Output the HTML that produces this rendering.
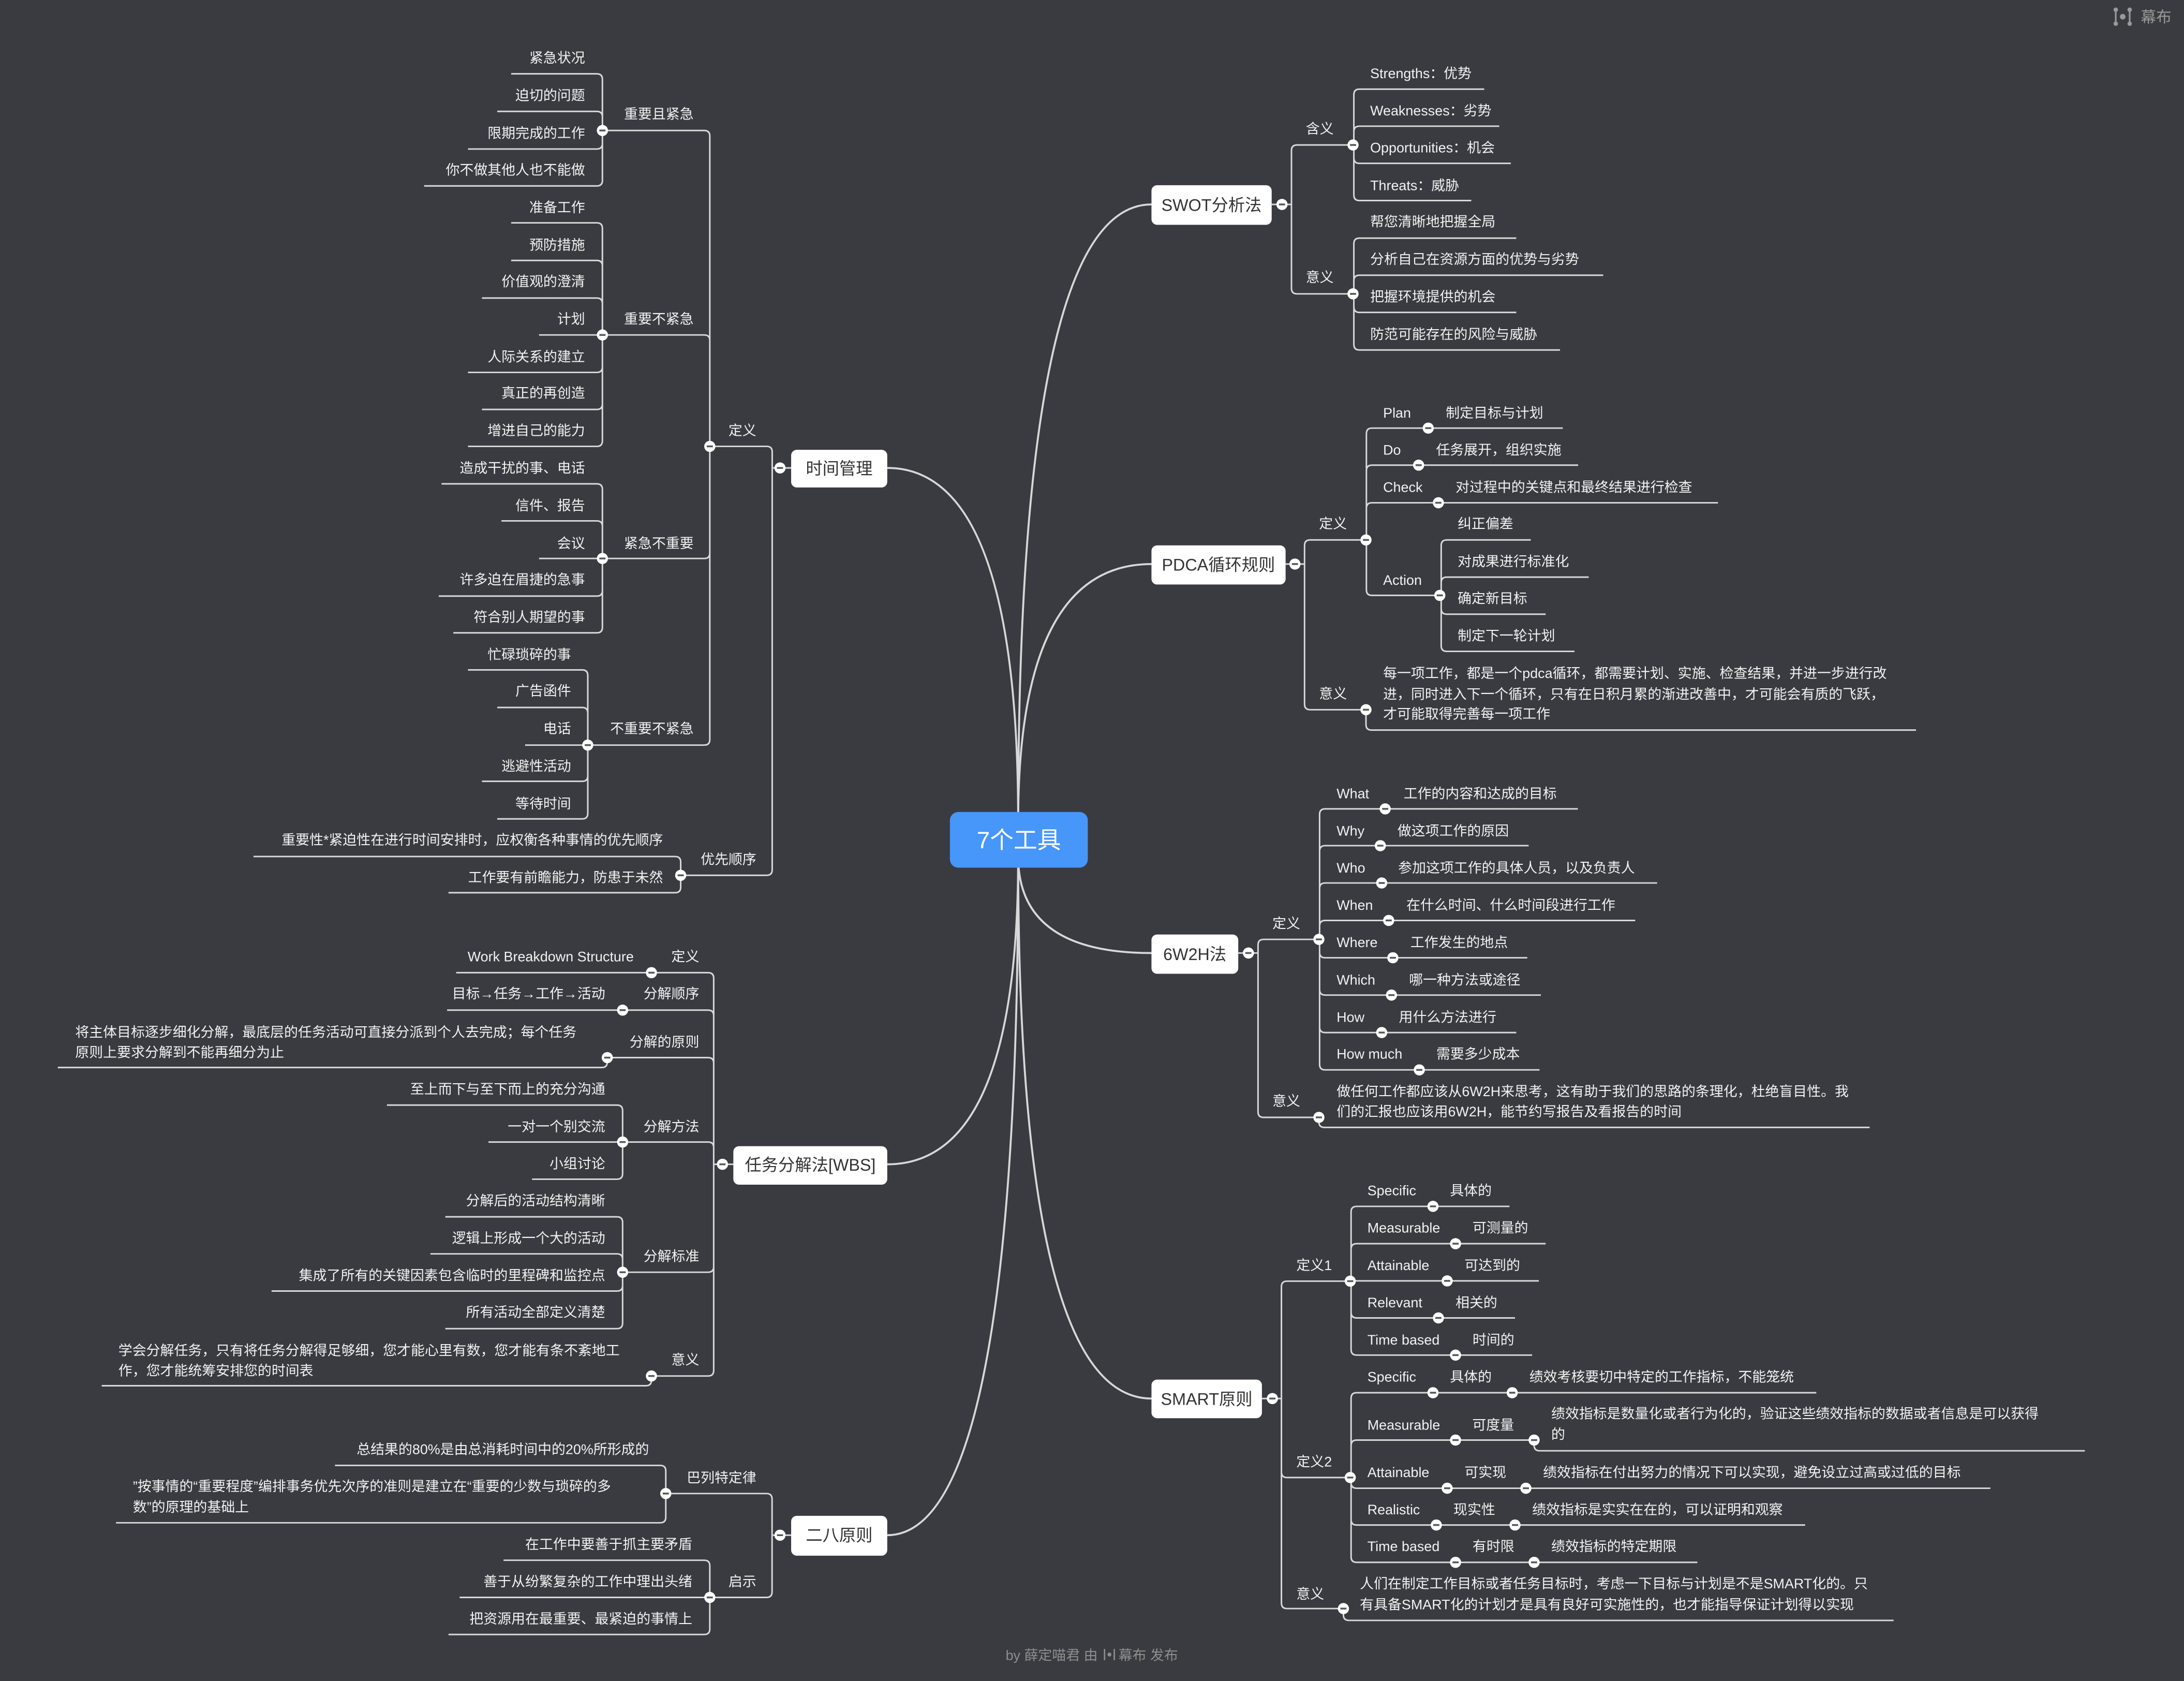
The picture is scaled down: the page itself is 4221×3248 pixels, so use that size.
<!DOCTYPE html>
<html><head><meta charset="utf-8"><style>
html,body{margin:0;padding:0;background:#393b41;}
svg{display:block;}
text{font-family:"Liberation Sans","Noto Sans CJK SC",sans-serif;fill:#f2f2f2;font-size:10px;}
.e{text-anchor:end;}
.l{fill:none;stroke:#d8d8d8;stroke-width:1.1;}
.m{fill:none;stroke:#d8d8d8;stroke-width:1.4;}
.bx{fill:#fff;}
.bt{fill:#333;font-size:12px;text-anchor:middle;}
</style></head><body>
<svg width="4221" height="3248" viewBox="0 0 1568 1207" preserveAspectRatio="none" xmlns="http://www.w3.org/2000/svg">
<defs><g id="c"><circle r="4" fill="#fff"/><line x1="-2.2" y1="0" x2="2.2" y2="0" stroke="#555" stroke-width="1.3"/></g></defs>
<rect width="1568" height="1207" fill="#393b41"/>

<!-- main curves -->
<path class="m" d="M731,590 Q731,146.8 826.7,146.8"/>
<path class="m" d="M731,590 Q731,405 826.7,405"/>
<path class="m" d="M731,615 Q731,684.3 826.7,684.3"/>
<path class="m" d="M731,615 Q731,1004.2 826.7,1004.2"/>
<path class="m" d="M731,590 Q731,336 637,336"/>
<path class="m" d="M731,615 Q731,836 637,836"/>
<path class="m" d="M731,615 Q731,1102.3 637,1102.3"/>

<!-- ===== 时间管理 ===== -->
<path class="l" d="M367,53H428.5Q432.5,53 432.5,57V93.7M357,80H428.5Q432.5,80 432.5,84V93.7M336,107H428.5Q432.5,107 432.5,103V93.7M304.5,133.5H428.5Q432.5,133.5 432.5,129.5V93.7"/>
<path class="l" d="M367,160H428.5Q432.5,160 432.5,164V240.5M367,187H428.5Q432.5,187 432.5,191V240.5M346,214H428.5Q432.5,214 432.5,218V240.5M387,240.5H432.5M336,267.4H428.5Q432.5,267.4 432.5,263.4V240.5M346,294H428.5Q432.5,294 432.5,290V240.5M336,320.5H428.5Q432.5,320.5 432.5,316.5V240.5"/>
<path class="l" d="M317,347.4H428.5Q432.5,347.4 432.5,351.4V401M360,374H428.5Q432.5,374 432.5,378V401M387,401H432.5M315,428H428.5Q432.5,428 432.5,424V401M325.5,454.4H428.5Q432.5,454.4 432.5,450.4V401"/>
<path class="l" d="M336,481H418Q422,481 422,485V535M357,508H418Q422,508 422,512V535M377,535H422M346,561H418Q422,561 422,557V535M357,588H418Q422,588 422,584V535"/>
<path class="l" d="M432.5,93.7H505.6Q509.6,93.7 509.6,97.7V320.5M432.5,240.5H505.6Q509.6,240.5 509.6,244.5V320.5M432.5,401H505.6Q509.6,401 509.6,397V320.5M422,535H505.6Q509.6,535 509.6,531V320.5"/>
<path class="l" d="M182,615H484.7Q488.7,615 488.7,619V628.5M322,641H484.7Q488.7,641 488.7,637V628.5"/>
<path class="l" d="M509.6,320.5H550.4Q554.4,320.5 554.4,324.5V336M488.7,628.5H550.4Q554.4,628.5 554.4,624.5V336M554.4,336H568"/>
<use href="#c" x="432.5" y="93.7"/><use href="#c" x="432.5" y="240.5"/><use href="#c" x="432.5" y="401"/><use href="#c" x="422" y="535"/><use href="#c" x="509.6" y="320.5"/><use href="#c" x="488.7" y="628.5"/>
<rect class="bx" x="568" y="323" width="69" height="27" rx="4"/><text class="bt" x="602.5" y="340.5">时间管理</text>
<use href="#c" x="560" y="336"/>
<g class="e">
<text class="e" x="420" y="45">紧急状况</text><text class="e" x="420" y="72">迫切的问题</text><text class="e" x="420" y="99">限期完成的工作</text><text class="e" x="420" y="125.5">你不做其他人也不能做</text>
<text class="e" x="420" y="152.3">准备工作</text><text class="e" x="420" y="179.3">预防措施</text><text class="e" x="420" y="205.5">价值观的澄清</text><text class="e" x="420" y="232.5">计划</text><text class="e" x="420" y="259.5">人际关系的建立</text><text class="e" x="420" y="285.5">真正的再创造</text><text class="e" x="420" y="312.5">增进自己的能力</text>
<text class="e" x="420" y="339.5">造成干扰的事、电话</text><text class="e" x="420" y="366.5">信件、报告</text><text class="e" x="420" y="393.5">会议</text><text class="e" x="420" y="419.5">许多迫在眉捷的急事</text><text class="e" x="420" y="446.5">符合别人期望的事</text>
<text class="e" x="410" y="473.5">忙碌琐碎的事</text><text class="e" x="410" y="499.5">广告函件</text><text class="e" x="410" y="526.5">电话</text><text class="e" x="410" y="553.5">逃避性活动</text><text class="e" x="410" y="580.5">等待时间</text>
<text class="e" x="498" y="85.2">重要且紧急</text><text class="e" x="498" y="232.5">重要不紧急</text><text class="e" x="498" y="393.5">紧急不重要</text><text class="e" x="498" y="526.5">不重要不紧急</text>
<text class="e" x="543" y="312.5">定义</text><text class="e" x="543" y="620.5">优先顺序</text>
<text class="e" x="476" y="606.5">重要性*紧迫性在进行时间安排时，应权衡各种事情的优先顺序</text><text class="e" x="476" y="633.5">工作要有前瞻能力，防患于未然</text>
</g>

<!-- ===== WBS ===== -->
<path class="l" d="M467.7,698.4H508.4Q512.4,698.4 512.4,702.4V836M447,725.3H508.4Q512.4,725.3 512.4,729.3V836M436,759.4H508.4Q512.4,759.4 512.4,763.4V836M447,820H508.4Q512.4,820 512.4,824V836M447,913.5H508.4Q512.4,913.5 512.4,909.5V836M467.7,988H508.4Q512.4,988 512.4,984V836M512.4,836H526.5"/>
<path class="l" d="M327.5,698.4H467.7M321,725.3H447M41.5,766.5H432Q436,766.5 436,762.5V759.4"/>
<path class="l" d="M277.8,793.5H443Q447,793.5 447,797.5V820M350.7,820H447M382,846.7H443Q447,846.7 447,842.7V820"/>
<path class="l" d="M319.7,873.7H443Q447,873.7 447,877.7V913.5M309,900.3H443Q447,900.3 447,904.3V913.5M195,927H443Q447,927 447,923V913.5M319.7,954H443Q447,954 447,950V913.5"/>
<path class="l" d="M73,995H463.7Q467.7,995 467.7,991V988"/>
<use href="#c" x="467.7" y="698.4"/><use href="#c" x="447" y="725.3"/><use href="#c" x="436" y="759.4"/><use href="#c" x="447" y="820"/><use href="#c" x="447" y="913.5"/><use href="#c" x="467.7" y="988"/>
<rect class="bx" x="526.5" y="823" width="110.5" height="27.6" rx="4"/><text class="bt" x="581.7" y="840.5">任务分解法[WBS]</text>
<use href="#c" x="518.7" y="836"/>
<text class="e" x="502" y="690.2">定义</text><text class="e" x="502" y="716.8">分解顺序</text><text class="e" x="502" y="751.5">分解的原则</text><text class="e" x="502" y="812.3">分解方法</text><text class="e" x="502" y="905.5">分解标准</text><text class="e" x="502" y="979.8">意义</text>
<text class="e" x="455" y="690.2">Work Breakdown Structure</text><text class="e" x="434.5" y="716.8">目标→任务→工作→活动</text>
<text x="54" y="744.5">将主体目标逐步细化分解，最底层的任务活动可直接分派到个人去完成；每个任务</text><text x="54" y="759">原则上要求分解到不能再细分为止</text>
<text class="e" x="434.5" y="785.5">至上而下与至下而上的充分沟通</text><text class="e" x="434.5" y="812.3">一对一个别交流</text><text class="e" x="434.5" y="838.9">小组讨论</text>
<text class="e" x="434.5" y="865.5">分解后的活动结构清晰</text><text class="e" x="434.5" y="892.5">逻辑上形成一个大的活动</text><text class="e" x="434.5" y="919.1">集成了所有的关键因素包含临时的里程碑和监控点</text><text class="e" x="434.5" y="945.5">所有活动全部定义清楚</text>
<text x="85" y="973">学会分解任务，只有将任务分解得足够细，您才能心里有数，您才能有条不紊地工</text><text x="85" y="987.5">作，您才能统筹安排您的时间表</text>

<!-- ===== 二八原则 ===== -->
<path class="l" d="M478,1072.4H550.3Q554.3,1072.4 554.3,1076.4V1102.3M509.6,1147H550.3Q554.3,1147 554.3,1143V1102.3M554.3,1102.3H568"/>
<path class="l" d="M240.5,1052.2H474Q478,1052.2 478,1056.2V1072.4M83.3,1093.4H474Q478,1093.4 478,1089.4V1072.4"/>
<path class="l" d="M361.5,1120.3H505.6Q509.6,1120.3 509.6,1124.3V1147M330,1147H509.6M322,1173.6H505.6Q509.6,1173.6 509.6,1169.6V1147"/>
<use href="#c" x="478" y="1072.4"/><use href="#c" x="509.6" y="1147"/>
<rect class="bx" x="568" y="1088.4" width="69" height="28.6" rx="4"/><text class="bt" x="602.5" y="1106.5">二八原则</text>
<use href="#c" x="560" y="1102.3"/>
<text class="e" x="543" y="1064.5">巴列特定律</text><text class="e" x="543" y="1139">启示</text>
<text class="e" x="466" y="1044">总结果的80%是由总消耗时间中的20%所形成的</text>
<text x="95.4" y="1070.6">”按事情的“重要程度”编排事务优先次序的准则是建立在“重要的少数与琐碎的多</text><text x="95.4" y="1085.5">数”的原理的基础上</text>
<text class="e" x="497" y="1112.2">在工作中要善于抓主要矛盾</text><text class="e" x="497" y="1139">善于从纷繁复杂的工作中理出头绪</text><text class="e" x="497" y="1165.7">把资源用在最重要、最紧迫的事情上</text>

<!-- ===== SWOT ===== -->
<path class="l" d="M913,146.8H927.2M971.4,104.1H931.2Q927.2,104.1 927.2,108.1V146.8M971.4,211H931.2Q927.2,211 927.2,207V146.8"/>
<path class="l" d="M1065.6,64H976Q972,64 972,68V104.1M1076.4,90.6H976Q972,90.6 972,94.6V104.1M1084.7,117.3H976Q972,117.3 972,113.3V104.1M1056.3,144H976Q972,144 972,140V104.1"/>
<path class="l" d="M1088.6,171H976Q972,171 972,175V211M1151,197.6H976Q972,197.6 972,201.6V211M1088.6,224.3H976Q972,224.3 972,220.3V211M1120,251.3H976Q972,251.3 972,247.3V211"/>
<rect class="bx" x="826.7" y="133" width="86.3" height="28.4" rx="4"/><text class="bt" x="869.8" y="151.5">SWOT分析法</text>
<use href="#c" x="920.4" y="146.8"/><use href="#c" x="971.4" y="104.1"/><use href="#c" x="971.4" y="211"/>
<text x="937.5" y="95.9">含义</text><text x="937.5" y="202.5">意义</text>
<text x="983.7" y="56.1">Strengths：优势</text><text x="983.7" y="82.8">Weaknesses：劣势</text><text x="983.7" y="109.4">Opportunities：机会</text><text x="983.7" y="136.5">Threats：威胁</text>
<text x="983.7" y="162.5">帮您清晰地把握全局</text><text x="983.7" y="189.5">分析自己在资源方面的优势与劣势</text><text x="983.7" y="216.5">把握环境提供的机会</text><text x="983.7" y="243.5">防范可能存在的风险与威胁</text>

<!-- ===== PDCA ===== -->
<path class="l" d="M923,405H936.6M980.7,387.7H940.6Q936.6,387.7 936.6,391.7V405M980.7,509.6H940.6Q936.6,509.6 936.6,505.6V405"/>
<path class="l" d="M1122,307.4H985Q981,307.4 981,311.4V387.7M1133,334H985Q981,334 981,338V387.7M1233.4,361H985Q981,361 981,365V387.7M1033.7,427.5H985Q981,427.5 981,423.5V387.7"/>
<path class="l" d="M1099,387.7H1038.7Q1034.7,387.7 1034.7,391.7V427.5M1140.6,414.4H1038.7Q1034.7,414.4 1034.7,418.4V427.5M1109.7,441H1038.7Q1034.7,441 1034.7,437V427.5M1130.4,467.7H1038.7Q1034.7,467.7 1034.7,463.7V427.5"/>
<path class="l" d="M1375.6,524.2H984.7Q980.7,524.2 980.7,520.2V509.6"/>
<rect class="bx" x="826.7" y="391.6" width="96.3" height="28.1" rx="4"/><text class="bt" x="874.8" y="409.8">PDCA循环规则</text>
<use href="#c" x="929.7" y="405"/><use href="#c" x="980.7" y="387.7"/><use href="#c" x="980.7" y="509.6"/><use href="#c" x="1025.4" y="307.4"/><use href="#c" x="1018.5" y="334"/><use href="#c" x="1032.7" y="361"/><use href="#c" x="1033.7" y="427.5"/>
<text x="947" y="379.5">定义</text><text x="947" y="501.5">意义</text>
<text x="993" y="299.9">Plan</text><text x="1038" y="299.9">制定目标与计划</text>
<text x="993" y="326.5">Do</text><text x="1031" y="326.5">任务展开，组织实施</text>
<text x="993" y="353.2">Check</text><text x="1045" y="353.2">对过程中的关键点和最终结果进行检查</text>
<text x="993" y="420">Action</text>
<text x="1046.5" y="379.5">纠正偏差</text><text x="1046.5" y="406.5">对成果进行标准化</text><text x="1046.5" y="433.2">确定新目标</text><text x="1046.5" y="459.8">制定下一轮计划</text>
<text x="993" y="486.8">每一项工作，都是一个pdca循环，都需要计划、实施、检查结果，并进一步进行改</text>
<text x="993" y="501.8">进，同时进入下一个循环，只有在日积月累的渐进改善中，才可能会有质的飞跃，</text>
<text x="993" y="516">才可能取得完善每一项工作</text>

<!-- ===== 6W2H ===== -->
<path class="l" d="M889,684.3H903.2M946.9,674.5H907.2Q903.2,674.5 903.2,678.5V684.3M946.9,802.3H907.2Q903.2,802.3 903.2,798.3V684.3"/>
<path class="l" d="M1132.8,580.8H951.4Q947.4,580.8 947.4,584.8V674.5M1097.5,607.2H951.4Q947.4,607.2 947.4,611.2V674.5M1189.7,634H951.4Q947.4,634 947.4,638V674.5M1174,660.9H951.4Q947.4,660.9 947.4,664.9V674.5M1096.5,687.7H951.4Q947.4,687.7 947.4,683.7V674.5M1106.3,714.5H951.4Q947.4,714.5 947.4,710.5V674.5M1088.6,741.4H951.4Q947.4,741.4 947.4,737.4V674.5M1105.3,768.2H951.4Q947.4,768.2 947.4,764.2V674.5"/>
<path class="l" d="M1342.3,809.5H950.9Q946.9,809.5 946.9,805.5V802.3"/>
<rect class="bx" x="826.7" y="671" width="62.3" height="28.2" rx="4"/><text class="bt" x="857.8" y="689.3">6W2H法</text>
<use href="#c" x="896.3" y="684.3"/><use href="#c" x="946.9" y="674.5"/><use href="#c" x="946.9" y="802.3"/>
<use href="#c" x="994.5" y="580.8"/><use href="#c" x="991" y="607.2"/><use href="#c" x="992" y="634"/><use href="#c" x="997" y="660.9"/><use href="#c" x="1000" y="687.7"/><use href="#c" x="999" y="714.5"/><use href="#c" x="992" y="741.4"/><use href="#c" x="1019" y="768.2"/>
<text x="913.5" y="666.5">定义</text><text x="913.5" y="793.9">意义</text>
<text x="959.6" y="573.2">What</text><text x="1007.7" y="573.2">工作的内容和达成的目标</text>
<text x="959.6" y="600">Why</text><text x="1003.3" y="600">做这项工作的原因</text>
<text x="959.6" y="626.5">Who</text><text x="1003.8" y="626.5">参加这项工作的具体人员，以及负责人</text>
<text x="959.6" y="653.3">When</text><text x="1009.7" y="653.3">在什么时间、什么时间段进行工作</text>
<text x="959.6" y="680.1">Where</text><text x="1012.6" y="680.1">工作发生的地点</text>
<text x="959.6" y="707">Which</text><text x="1011.6" y="707">哪一种方法或途径</text>
<text x="959.6" y="733.8">How</text><text x="1004.3" y="733.8">用什么方法进行</text>
<text x="959.6" y="760.2">How much</text><text x="1031.2" y="760.2">需要多少成本</text>
<text x="959.6" y="787.1">做任何工作都应该从6W2H来思考，这有助于我们的思路的条理化，杜绝盲目性。我</text>
<text x="959.6" y="801.5">们的汇报也应该用6W2H，能节约写报告及看报告的时间</text>

<!-- ===== SMART ===== -->
<path class="l" d="M906,1004.2H920M969.4,919.9H924Q920,919.9 920,923.9V1004.2M969.4,1060.9H924Q920,1060.9 920,1056.9V1004.2M964.5,1155H924Q920,1155 920,1151V1004.2"/>
<path class="l" d="M1083.7,866.2H974Q970,866.2 970,870.2V919.9M1109.7,893H974Q970,893 970,897V919.9M1104.8,919.7H970M1087.7,946.3H974Q970,946.3 970,942.3V919.9M1100,973H974Q970,973 970,969V919.9"/>
<path class="l" d="M1304,1000H974Q970,1000 970,1004V1060.9M1101.4,1034H974Q970,1034 970,1038V1060.9M1429,1068.6H974Q970,1068.6 970,1064.6V1060.9M1296,1095H974Q970,1095 970,1091V1060.9M1218.6,1121.8H974Q970,1121.8 970,1117.8V1060.9"/>
<path class="l" d="M1496.8,1041.7H1105.4Q1101.4,1041.7 1101.4,1037.7V1034M1359.5,1163.5H968.5Q964.5,1163.5 964.5,1159.5V1155"/>
<rect class="bx" x="826.7" y="990.6" width="79.3" height="27.7" rx="4"/><text class="bt" x="866.3" y="1008.8">SMART原则</text>
<use href="#c" x="913.5" y="1004.2"/><use href="#c" x="969.4" y="919.9"/><use href="#c" x="969.4" y="1060.9"/><use href="#c" x="964.5" y="1155"/>
<use href="#c" x="1028.8" y="866.2"/><use href="#c" x="1045" y="893"/><use href="#c" x="1039" y="919.7"/><use href="#c" x="1032.7" y="946.3"/><use href="#c" x="1045" y="973"/>
<use href="#c" x="1028.8" y="1000"/><use href="#c" x="1085.7" y="1000"/><use href="#c" x="1045" y="1034"/><use href="#c" x="1101.4" y="1034"/><use href="#c" x="1039" y="1068.6"/><use href="#c" x="1095.5" y="1068.6"/><use href="#c" x="1031.2" y="1095"/><use href="#c" x="1087.7" y="1095"/><use href="#c" x="1045" y="1121.8"/><use href="#c" x="1101.4" y="1121.8"/>
<text x="930.7" y="911.9">定义1</text><text x="930.7" y="1052.9">定义2</text><text x="930.7" y="1147.9">意义</text>
<text x="981.7" y="858.2">Specific</text><text x="1041" y="858.2">具体的</text>
<text x="981.7" y="885">Measurable</text><text x="1057.2" y="885">可测量的</text>
<text x="981.7" y="911.9">Attainable</text><text x="1051.4" y="911.9">可达到的</text>
<text x="981.7" y="938.7">Relevant</text><text x="1045" y="938.7">相关的</text>
<text x="981.7" y="965.5">Time based</text><text x="1057.2" y="965.5">时间的</text>
<text x="981.7" y="992">Specific</text><text x="1041" y="992">具体的</text><text x="1098" y="992">绩效考核要切中特定的工作指标，不能笼统</text>
<text x="981.7" y="1026.5">Measurable</text><text x="1057" y="1026.5">可度量</text>
<text x="1113.7" y="1018.4">绩效指标是数量化或者行为化的，验证这些绩效指标的数据或者信息是可以获得</text><text x="1113.7" y="1033.3">的</text>
<text x="981.7" y="1060.5">Attainable</text><text x="1051.4" y="1060.5">可实现</text><text x="1107.8" y="1060.5">绩效指标在付出努力的情况下可以实现，避免设立过高或过低的目标</text>
<text x="981.7" y="1087.4">Realistic</text><text x="1043.5" y="1087.4">现实性</text><text x="1100" y="1087.4">绩效指标是实实在在的，可以证明和观察</text>
<text x="981.7" y="1113.8">Time based</text><text x="1057.2" y="1113.8">有时限</text><text x="1113.7" y="1113.8">绩效指标的特定期限</text>
<text x="976.3" y="1140.5">人们在制定工作目标或者任务目标时，考虑一下目标与计划是不是SMART化的。只</text>
<text x="976.3" y="1155.5">有具备SMART化的计划才是具有良好可实施性的，也才能指导保证计划得以实现</text>

<!-- center -->
<rect x="682" y="583" width="99" height="40" rx="6" fill="#4796fa"/>
<text x="731.5" y="609" style="font-size:17px;fill:#fff;text-anchor:middle">7个工具</text>

<!-- header/footer -->
<g fill="#999" stroke="#999" stroke-width="1.2">
<circle cx="1519" cy="7" r="1.6" stroke="none"/><circle cx="1519" cy="17" r="1.6" stroke="none"/><circle cx="1529" cy="7" r="1.6" stroke="none"/><circle cx="1529" cy="17" r="1.6" stroke="none"/><circle cx="1524" cy="12" r="2" stroke="none"/>
<line x1="1519" y1="7" x2="1519" y2="17"/><line x1="1529" y1="7" x2="1529" y2="17"/>
</g>
<text x="1537" y="16" style="fill:#999;font-size:11px">幕布</text>
<text x="722" y="1192" style="fill:#8e8e8e;font-size:10px">by 薛定喵君 由</text>
<g fill="#8e8e8e" stroke="#8e8e8e" stroke-width="1"><line x1="793" y1="1184" x2="793" y2="1192"/><line x1="800" y1="1184" x2="800" y2="1192"/><circle cx="796.5" cy="1188" r="1.4" stroke="none"/></g>
<text x="803" y="1192" style="fill:#8e8e8e;font-size:10px">幕布 发布</text>
</svg>
</body></html>
